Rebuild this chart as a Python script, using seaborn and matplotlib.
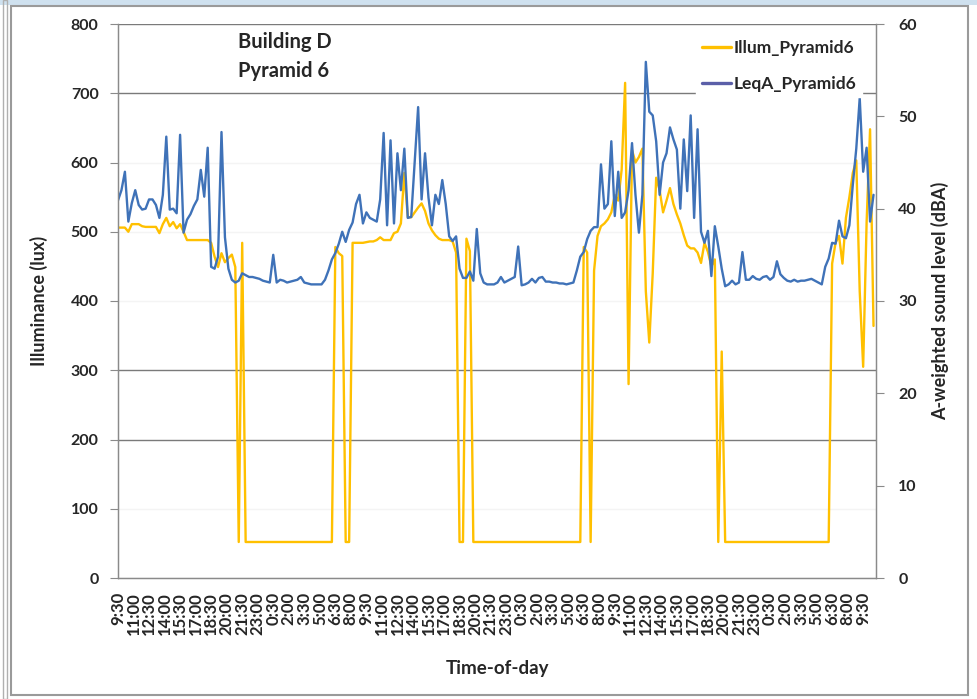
import numpy as np
import pandas as pd
import matplotlib
matplotlib.use("Agg")
import matplotlib.pyplot as plt
import seaborn as sns
from matplotlib.patches import Rectangle
from matplotlib.lines import Line2D

# ---------------- data (20-minute samples starting 9:30) ----------------
tick_labels = ["9:30", "11:00", "12:30", "14:00", "15:30", "17:00", "18:30", "20:00",
               "21:30", "23:00", "0:30", "2:00", "3:30", "5:00", "6:30", "8:00",
               "9:30", "11:00", "12:30", "14:00", "15:30", "17:00", "18:30", "20:00",
               "21:30", "23:00", "0:30", "2:00", "3:30", "5:00", "6:30", "8:00",
               "9:30", "11:00", "12:30", "14:00", "15:30", "17:00", "18:30", "20:00",
               "21:30", "23:00", "0:30", "2:00", "3:30", "5:00", "6:30", "8:00",
               "9:30"]

illum = [506, 506, 506, 500, 511, 511, 511, 508, 507, 507,
         507, 507, 498, 511, 520, 508, 514, 505, 511, 500,
         488, 488, 488, 488, 488, 488, 488, 484, 464, 449,
         469, 456, 462, 467, 449, 52, 484, 52, 52, 52,
         52, 52, 52, 52, 52, 52, 52, 52, 52, 52,
         52, 52, 52, 52, 52, 52, 52, 52, 52, 52,
         52, 52, 52, 478, 469, 465, 52, 52, 484, 484,
         484, 484, 485, 486, 486, 488, 492, 488, 488, 488,
         498, 500, 512, 585, 521, 521, 528, 535, 541, 530,
         512, 502, 495, 490, 488, 488, 488, 486, 470, 52,
         52, 490, 472, 52, 52, 52, 52, 52, 52, 52,
         52, 52, 52, 52, 52, 52, 52, 52, 52, 52,
         52, 52, 52, 52, 52, 52, 52, 52, 52, 52,
         52, 52, 52, 52, 52, 478, 470, 52, 444, 494,
         508, 512, 518, 528, 553, 545, 590, 715, 280, 618,
         600, 608, 620, 414, 340, 440, 578, 560, 528, 545,
         563, 540, 525, 512, 495, 480, 476, 476, 470, 455,
         484, 471, 450, 460, 52, 327, 52, 52, 52, 52,
         52, 52, 52, 52, 52, 52, 52, 52, 52, 52,
         52, 52, 52, 52, 52, 52, 52, 52, 52, 52,
         52, 52, 52, 52, 52, 52, 52, 454, 484, 494,
         454, 520, 550, 585, 603, 414, 305, 514, 648, 364]

leqa = [40.9, 42.0, 44.0, 38.6, 40.6, 42.0, 40.4, 39.9, 40.0, 41.0,
        41.0, 40.4, 39.0, 41.5, 47.8, 39.9, 40.0, 39.5, 48.0, 37.4,
        38.8, 39.4, 40.3, 41.0, 44.2, 41.3, 46.6, 33.7, 33.5, 34.8,
        48.3, 36.9, 33.5, 32.3, 32.0, 32.2, 33.0, 32.8, 32.6, 32.6,
        32.5, 32.4, 32.2, 32.1, 32.0, 35.0, 32.0, 32.3, 32.2, 32.0,
        32.1, 32.2, 32.3, 32.6, 32.0, 31.9, 31.8, 31.8, 31.8, 31.8,
        32.3, 33.3, 34.5, 35.2, 36.2, 37.5, 36.4, 37.7, 38.5, 40.5,
        41.5, 38.4, 39.6, 39.0, 38.8, 38.6, 41.0, 48.2, 38.2, 47.4,
        38.4, 46.0, 42.0, 46.5, 39.0, 39.1, 45.0, 51.0, 41.0, 46.0,
        41.2, 38.2, 41.5, 40.5, 43.1, 40.5, 37.0, 36.5, 37.0, 33.5,
        32.5, 32.5, 33.2, 32.2, 37.8, 33.0, 32.0, 31.8, 31.8, 31.8,
        32.0, 32.6, 32.0, 32.2, 32.4, 32.6, 35.9, 31.7, 31.8, 32.0,
        32.4, 32.0, 32.5, 32.6, 32.1, 32.1, 32.0, 32.0, 31.9, 31.9,
        31.8, 31.9, 32.0, 33.3, 34.8, 35.3, 36.7, 37.6, 38.0, 38.0,
        44.8, 40.0, 40.5, 47.3, 39.2, 44.0, 39.0, 39.6, 42.0, 47.1,
        41.5, 37.4, 41.5, 55.9, 50.5, 50.1, 47.3, 41.5, 45.0, 46.0,
        48.8, 47.5, 46.4, 40.0, 47.5, 41.9, 50.1, 39.0, 48.6, 37.5,
        36.3, 37.6, 32.7, 38.1, 35.9, 33.5, 31.6, 31.8, 32.2, 31.8,
        32.0, 35.3, 32.3, 32.3, 32.7, 32.4, 32.3, 32.6, 32.7, 32.3,
        32.6, 34.3, 32.9, 32.5, 32.2, 32.1, 32.3, 32.1, 32.2, 32.2,
        32.3, 32.4, 32.2, 32.0, 31.8, 33.7, 34.6, 36.3, 36.2, 38.7,
        37.0, 36.8, 38.2, 42.6, 46.5, 52.0, 44.0, 46.6, 38.6, 41.5]

SAMPLES_PER_HOUR = 3
TICK_STEP_H = 1.5

# ---------------- style ----------------
sns.set_style("white")
plt.rcParams['font.family'] = ['Lato', 'DejaVu Sans']
plt.rcParams['font.weight'] = 'bold'

YEL = "#FFC000"
BLU = "#3F72B8"
AXC = "#8a8a8a"

hours = np.arange(len(illum)) / SAMPLES_PER_HOUR
df = pd.DataFrame({"hours": hours, "Illum_Pyramid6": illum, "LeqA_Pyramid6": leqa})

fig = plt.figure(figsize=(9.77, 6.99), dpi=100)
fig.patch.set_facecolor("white")
ax = fig.add_axes([118 / 977, 1 - 578 / 699, (876 - 118) / 977, (578 - 24) / 699])

sns.lineplot(data=df, x="hours", y="Illum_Pyramid6", ax=ax, color=YEL, lw=1.7,
             estimator=None, legend=False)
ax2 = ax.twinx()
sns.lineplot(data=df, x="hours", y="LeqA_Pyramid6", ax=ax2, color=BLU, lw=1.7,
             estimator=None, legend=False)

ax.set_xlim(0, 73.24)
ax.set_ylim(0, 800)
ax2.set_ylim(0, 60)
ax.set_yticks(np.arange(0, 801, 100))
ax2.set_yticks(np.arange(0, 61, 10))
xt = np.arange(len(tick_labels)) * TICK_STEP_H
ax.set_xticks(xt)
ax.set_xticklabels(tick_labels, rotation=90, fontsize=12, fontweight='bold')

# gridlines (only some are visible in the original)
ax.grid(axis='y', lw=1.0)
strong = {200, 300, 700, 800}
for val, gl in zip(ax.get_yticks(), ax.get_ygridlines()):
    gl.set_color("#7a7a7a" if int(round(val)) in strong else "#f4f4f4")
ax.grid(axis='x', visible=False)
ax2.grid(False)

for a in (ax, ax2):
    for s in a.spines.values():
        s.set_color(AXC)
        s.set_linewidth(0.9)
    a.spines['top'].set_visible(False)

ax.tick_params(axis='y', direction='out', length=6, color=AXC, labelsize=11.5, pad=8)
ax2.tick_params(axis='y', direction='out', length=6, color=AXC, labelsize=11.5, pad=10)
ax.tick_params(axis='x', direction='out', length=5, color=AXC, pad=5)
for lab in ax.get_yticklabels() + ax2.get_yticklabels():
    lab.set_fontweight('bold')

ax.set_xlabel("Time-of-day", fontsize=13.5, fontweight='bold', labelpad=18)
ax.set_ylabel("Illuminance (lux)", fontsize=13, fontweight='bold', labelpad=16)
ax2.set_ylabel("A-weighted sound level (dBA)", fontsize=13, fontweight='bold', labelpad=10)

fig.text(238 / 977, 1 - 42 / 699, "Building D", fontsize=14.5, fontweight='bold', va='center', ha='left')
fig.text(238 / 977, 1 - 71 / 699, "Pyramid 6", fontsize=14.5, fontweight='bold', va='center', ha='left')

handles = [Line2D([], [], color=YEL, lw=2.4), Line2D([], [], color="#5b5fa8", lw=2.4)]
leg = ax2.legend(handles, ["Illum_Pyramid6", "LeqA_Pyramid6"], loc='upper right',
                 bbox_to_anchor=(0.981, 0.98), frameon=True, framealpha=1,
                 facecolor='white', edgecolor='white', fontsize=12.5,
                 handlelength=1.7, handletextpad=0.15, labelspacing=1.15, borderpad=0.3,
                 borderaxespad=0.0)
leg.get_frame().set_boxstyle("square", pad=0)
for t in leg.get_texts():
    t.set_fontweight('bold')

# screenshot-like frame
fig.patches.append(Rectangle((0, 1 - 5 / 699), 1, 5 / 699, transform=fig.transFigure,
                             facecolor="#cfe1ef", edgecolor='none'))
fig.patches.append(Rectangle((11 / 977, 4 / 699), (968 - 11) / 977, (694 - 5) / 699,
                             transform=fig.transFigure, fill=False, edgecolor="#9a9a9a", lw=1.5))
fig.patches.append(Rectangle((3 / 977, 0), 4 / 977, 1, transform=fig.transFigure,
                             fill=False, edgecolor="#b0b0b0", lw=1.0))

fig.savefig("out.png", dpi=100)
